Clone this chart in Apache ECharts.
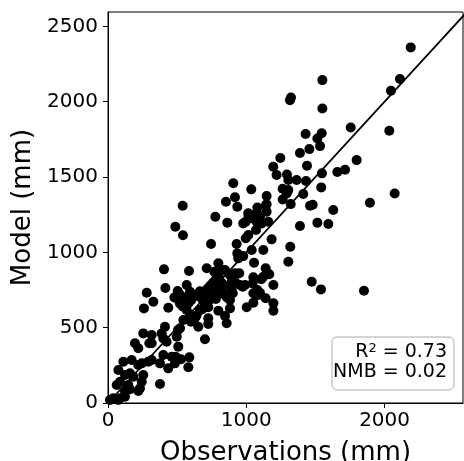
<!DOCTYPE html>
<html><head><meta charset="utf-8">
<script src="https://cdn.jsdelivr.net/npm/echarts@6/dist/echarts.min.js"></script>
<style>html,body{margin:0;padding:0;background:#fff}#c{width:464px;height:461px}</style>
</head><body><div id="c"></div>
<script>
// Observations (mm) and Model (mm), paired
const obs = [2189,1550,2111,2046,1323,1316,1550,1755,2034,1429,1545,1514,1456,1388,1533,1246,1798,1195,1439,1219,1294,1547,1658,1714,1304,1364,1432,906,1036,1263,1304,1542,2073,918,1147,1263,1412,853,540,935,1142,1321,1461,1480,1894,1629,1080,1147,776,1017,1039,1099,863,978,1388,1514,1593,487,542,995,1075,1015,1070,1183,745,930,1318,1039,1123,935,978,1304,1056,798,405,586,714,769,822,1140,949,1166,1051,1108,918,1046,1196,1473,974,415,569,280,504,593,665,1080,1540,1851,769,902,1099,328,497,560,620,762,882,1140,1051,1003,260,436,569,665,725,798,882,1196,846,858,725,653,701,521,497,412,388,316,255,316,195,219,424,508,400,460,528,588,581,436,376,316,244,111,171,75,123,183,87,159,231,244,376,123,38,75,14,299,400,489,484,291,219,159,255,63,147,219,123,87,1292,1147,1014,1051,1087,1111,1159,996,942,846,882,918,1123,894,954,991,894,1051,1087,1196,520,580,600,640,680,700,720,740,760,780,800,820,840,790,770,750,730,700,680,640,620,600,540,520,480,600,820,780,720,840,860,545,593,506,629,725];
const model = [2360,2143,2150,2072,2028,2010,1955,1829,1807,1785,1790,1756,1685,1659,1705,1626,1612,1568,1575,1513,1517,1524,1533,1548,1480,1480,1473,1458,1418,1422,1413,1431,1391,1365,1374,1351,1387,1336,1309,1303,1314,1320,1309,1316,1329,1281,1298,1270,1236,1241,1226,1236,1197,1192,1175,1197,1188,1170,1113,1203,1203,1115,1148,1086,1055,1055,1037,1015,1015,993,975,938,931,927,887,876,894,871,883,894,861,854,834,821,805,794,783,805,772,763,783,732,743,738,741,750,754,745,750,728,732,672,695,700,705,695,683,695,665,635,628,632,617,617,635,612,628,612,577,529,524,506,423,496,440,506,462,451,462,396,396,363,407,374,319,307,290,303,237,230,263,285,263,274,285,219,186,175,141,91,97,141,126,42,31,20,20,396,429,307,263,274,252,197,186,119,119,80,75,31,1391,1319,1259,1248,1248,1192,1203,1093,960,883,849,861,838,805,783,783,750,728,717,662,720,660,680,720,690,740,760,780,800,820,840,800,780,760,730,700,680,650,620,580,560,540,640,660,700,720,740,690,640,720,700,551,584,485,564,562];
const xTicks = [0, 1000, 2000];
const yTicks = [0, 500, 1000, 1500, 2000, 2500];
const oneToOne = [0, 2600];
const r2Text = '0.73';
const nmbText = '0.02';

const pts = obs.map((v, i) => [v, model[i]]);
const font = 'DejaVu Sans';
const plain = v => String(Math.round(v));
const chart = echarts.init(document.getElementById('c'), null, {renderer: 'canvas'});
chart.setOption({
  animation: false,
  backgroundColor: '#fff',
  grid: {left: 108, right: 1, top: 12, bottom: 58, show: true, borderColor: '#000', borderWidth: 1,
         backgroundColor: 'transparent', containLabel: false, outerBoundsMode: 'none'},
  xAxis: {
    type: 'value', min: 0, max: 2567,
    name: 'Observations (mm)', nameLocation: 'middle', nameGap: 37,
    nameTextStyle: {fontFamily: font, fontSize: 26, color: '#000'},
    axisLine: {show: true, lineStyle: {color: '#000', width: 1}},
    axisTick: {show: true, length: 5, lineStyle: {color: '#000'}, customValues: xTicks},
    axisLabel: {fontFamily: font, fontSize: 20, color: '#000', margin: 8, customValues: xTicks, formatter: plain},
    splitLine: {show: false}
  },
  yAxis: {
    type: 'value', min: 0, max: 2595,
    name: 'Model (mm)', nameLocation: 'middle', nameGap: 60, nameRotate: 90,
    nameTextStyle: {fontFamily: font, fontSize: 26, color: '#000'},
    axisLine: {show: true, lineStyle: {color: '#000', width: 1}},
    axisTick: {show: true, length: 5, lineStyle: {color: '#000'}, customValues: yTicks},
    axisLabel: {fontFamily: font, fontSize: 20, color: '#000', margin: 10, customValues: yTicks, formatter: plain},
    splitLine: {show: false}
  },
  series: [
    {type: 'scatter', data: pts, symbol: 'circle', symbolSize: 10, itemStyle: {color: '#000', opacity: 1}, z: 2},
    {type: 'line', data: [[oneToOne[0], oneToOne[0]], [oneToOne[1], oneToOne[1]]], symbol: 'none', clip: true,
     lineStyle: {color: '#000', width: 1.8}, z: 3}
  ],
  graphic: [
    {type: 'rect', z: 100, shape: {x: 332, y: 337, width: 122, height: 53, r: 5},
     style: {fill: 'rgba(255,255,255,0.85)', stroke: '#aaa', lineWidth: 1}},
    {type: 'text', z: 101, x: 447, y: 342,
     style: {
       text: '{t|R}{s|2}{t| = ' + r2Text + '}\n{t|NMB = ' + nmbText + '}',
       align: 'right', verticalAlign: 'top', textAlign: 'right', textVerticalAlign: 'top',
       rich: {
         t: {fontFamily: font, fontSize: 19, lineHeight: 20, fill: '#000'},
         s: {fontFamily: font, fontSize: 13, lineHeight: 20, verticalAlign: 'top', fill: '#000'}
       }
     }}
  ]
});
</script></body></html>
